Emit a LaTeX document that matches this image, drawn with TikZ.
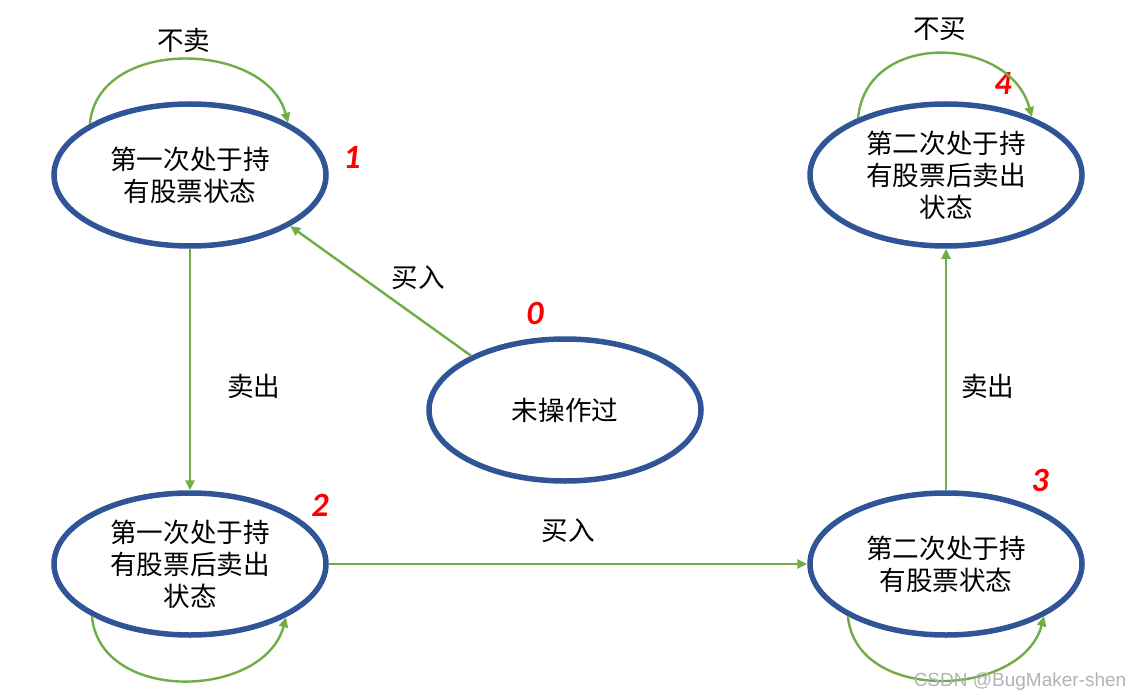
\documentclass[tikz,border=0pt]{standalone}
\usepackage{fontspec}
\setmainfont{Noto Sans CJK SC}
\newfontfamily\cjk{Noto Sans CJK SC}
\newfontfamily\numfont{Carlito}
\newfontfamily\markfont{Liberation Sans}
\usetikzlibrary{shapes,arrows.meta,positioning}
\definecolor{stateblue}{HTML}{2F5597}
\definecolor{edgegreen}{HTML}{70AD47}
\tikzset{
    state/.style = {draw=stateblue, ellipse, line width=2.75pt,
        minimum width=136pt, minimum height=71pt, inner sep=0pt,
        align=center, font=\cjk\fontsize{13.3}{16}\selectfont},
    trans/.style = {draw=edgegreen, line width=1.2pt, ->},
    edgelabel/.style = {inner sep=0pt, font=\cjk\fontsize{13.3}{16}\selectfont},
    num/.style = {text=red, font=\numfont\bfseries\itshape\fontsize{17}{17}\selectfont}
}
\begin{document}
\begin{tikzpicture}[x=0.5pt, y=-0.5pt, >={Triangle[length=5pt,width=4.5pt]}, node distance=2cm]
    \useasboundingbox (0,0) rectangle (1134,700);
    % states
    \node [state, name=state0] at (565,410) {未操作过};
    \node [state, name=state1] at (190,175) {第一次处于持\\有股票状态};
    \node [state, below of=state1, node distance=194.5pt, name=state2] {第一次处于持\\有股票后卖出\\状态};
    \node [state, right of=state2, node distance=378pt, name=state3] {第二次处于持\\有股票状态};
    \node [state, above of=state3, node distance=194.5pt, name=state4] {第二次处于持\\有股票后卖出\\状态};
    \foreach \s/\dx/\dy in {0/-15/48.5, 1/81/9, 2/65/29.5, 3/47/42, 4/28.5/46}{
        \node [num, right of=state\s, node distance=\dx pt, yshift=\dy pt, name=num\s] {\s};
    }
    % transitions
    \draw [trans] (state0.150) -- node[edgelabel, above right=0pt and 5pt] {买入} (state1.333);
    \draw [trans] (state1.south) -- node[edgelabel, pos=.57, right=18pt] {卖出} (state2.north);
    \draw [trans] (state2.east) -- node[edgelabel, above=10pt] {买入} (state3.west);
    \draw [trans] (state3.north) -- node[edgelabel, pos=.43, right=7pt] {卖出} (state4.south);
    % self loops
    \draw [trans] (state1.153) .. controls +(8,-88) and +(-22,-82) .. node[edgelabel, above=3pt] {不卖} (state1.28);
    \draw [trans] (state4.147) .. controls +(8,-88) and +(-22,-82) .. node[edgelabel, above=6pt] {不买} (state4.34);
    \draw [trans] (state2.208) .. controls +(8,88) and +(-22,82) .. (state2.331);
    \draw [trans] (state3.208) .. controls +(8,88) and +(-22,82) .. (state3.332);
    \node [name=watermark, text=gray!60, font=\markfont\fontsize{9.5}{10}\selectfont] at (1020,682) {CSDN @BugMaker-shen};
\end{tikzpicture}
\end{document}
